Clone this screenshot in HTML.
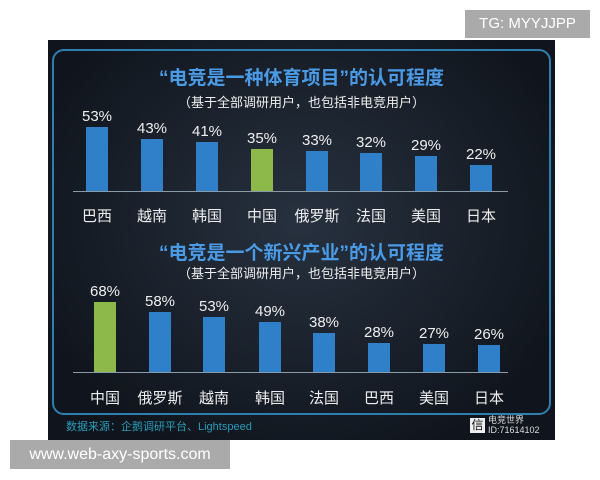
<!DOCTYPE html><html><head><meta charset="utf-8"><style>
body{margin:0;width:600px;height:480px;background:#fff;position:relative;overflow:hidden;font-family:"Liberation Sans","Noto Sans CJK SC",sans-serif}
.p{position:absolute;left:48px;top:40px;width:507px;height:400px;background:radial-gradient(ellipse at 50% 45%,#27313f,#10151d 80%)}
.in{position:absolute;left:52px;top:49px;width:495px;height:362px;border:2px solid #2f7fae;border-radius:12px}
.t{position:absolute;left:48px;width:507px;text-align:center;font-weight:bold;font-size:19px;color:#4a9ae6}
.s{position:absolute;left:48px;width:507px;text-align:center;font-size:13px;color:#eee}
.b{position:absolute;width:22px;background:#2f7fc9}
.v{position:absolute;width:50px;text-align:center;font-size:15px;color:#eee}
.c{position:absolute;width:60px;text-align:center;font-size:15px;color:#eee}
.l{position:absolute;height:1px;background:#8a9aa8}
.wm{position:absolute;background:#aaa;color:#fff;font-size:15px;text-align:center}
</style></head><body>
<div class="p"></div><div class="in"></div>
<div class="t" style="top:63px">“电竞是一种体育项目”的认可程度</div>
<div class="s" style="top:92px">（基于全部调研用户，也包括非电竞用户）</div>
<div class="l" style="left:73px;top:191px;width:435px"></div>
<div class="t" style="top:238px">“电竞是一个新兴产业”的认可程度</div>
<div class="s" style="top:263px">（基于全部调研用户，也包括非电竞用户）</div>
<div class="l" style="left:73px;top:372px;width:435px"></div>
<div id="g"></div>
<div style="position:absolute;left:66px;top:418px;font-size:11px;color:#2b9bb8">数据来源：企鹅调研平台、Lightspeed</div>
<div style="position:absolute;left:470px;top:418px;width:15px;height:15px;background:#eee;color:#111;font-size:12px;line-height:15px;text-align:center">信</div>
<div style="position:absolute;left:488px;top:415px;font-size:9px;color:#ddd;line-height:10px">电竞世界<br>ID:71614102</div>
<div class="wm" style="left:465px;top:10px;width:125px;height:28px;line-height:28px">TG: MYYJJPP</div>
<div class="wm" style="left:10px;top:440px;width:220px;height:29px;line-height:29px;font-size:16px">www.web-axy-sports.com</div>
<script>
var h='';
function d(cs,xs,vs,base,sc,cy,hi){for(var i=0;i<8;i++){var ht=vs[i]*sc,x=xs[i];
h+='<div class="b" style="left:'+(x-11)+'px;top:'+(base-ht)+'px;height:'+ht+'px;background:'+(i==hi?'#8db84a':'#2f7fc9')+'"></div>';
h+='<div class="v" style="left:'+(x-25)+'px;top:'+(base-ht-19)+'px">'+vs[i]+'%</div>';
h+='<div class="c" style="left:'+(x-30)+'px;top:'+cy+'px">'+cs[i]+'</div>';}}
d(['巴西','越南','韩国','中国','俄罗斯','法国','美国','日本'],[97,152,207,262,317,371,426,481],[53,43,41,35,33,32,29,22],191,1.2,205,3);
d(['中国','俄罗斯','越南','韩国','法国','巴西','美国','日本'],[105,160,214,270,324,379,434,489],[68,58,53,49,38,28,27,26],372,1.03,387,0);
document.getElementById('g').innerHTML=h;
</script>
</body></html>
